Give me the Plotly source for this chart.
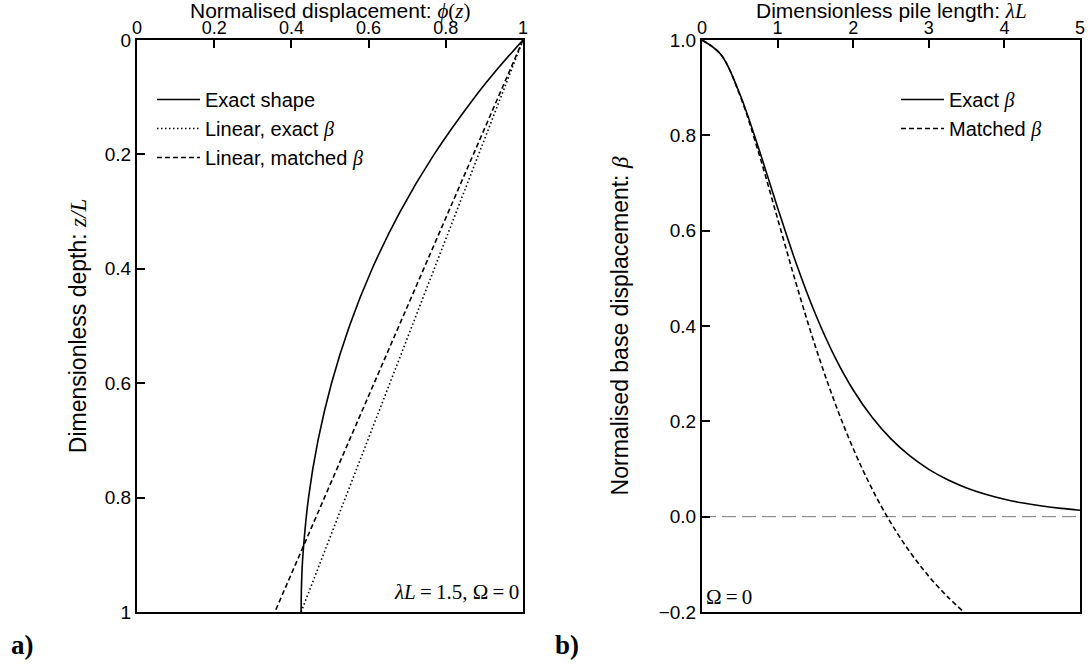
import plotly.graph_objects as go

# ---- Panel a) data ----
z_exact = [0.0, 0.05, 0.1, 0.2, 0.3, 0.4, 0.5, 0.6, 0.7, 0.8, 0.9, 0.95, 1.0]
phi_exact = [1.0, 0.9348, 0.8750, 0.7697, 0.6818, 0.6092, 0.5504, 0.5039, 0.4689, 0.4444, 0.4299, 0.4263, 0.4251]
z_lin = [0.0, 1.0]
phi_lin_exact = [1.0, 0.4251]
phi_lin_matched = [1.0, 0.3571]

# ---- Panel b) data ----
lam_exact = [0, 0.25, 0.5, 0.75, 1.0, 1.25, 1.5, 1.75, 2.0, 2.25, 2.5, 2.75, 3.0, 3.25, 3.5, 3.75, 4.0, 4.25, 4.5, 4.75, 5.0]
beta_exact = [1.0, 0.9695, 0.8868, 0.7724, 0.6481, 0.5295, 0.4251, 0.3374, 0.2658, 0.2085, 0.1631, 0.1273, 0.0993, 0.0774, 0.0603, 0.0470, 0.0366, 0.0285, 0.0222, 0.0173, 0.0135]
lam_matched = [0, 0.25, 0.5, 0.75, 1.0, 1.25, 1.5, 1.75, 2.0, 2.25, 2.5, 2.75, 3.0, 3.25, 3.464]
beta_matched = [1.0, 0.9694, 0.8846, 0.7632, 0.625, 0.4863, 0.3571, 0.2423, 0.1429, 0.0581, -0.0135, -0.0740, -0.125, -0.1682, -0.2]
zero_x = [0, 5]
zero_y = [0, 0]

xa_ticks = [0, 0.2, 0.4, 0.6, 0.8, 1]
xa_labels = ["0", "0.2", "0.4", "0.6", "0.8", "1"]
ya_ticks = [0, 0.2, 0.4, 0.6, 0.8, 1]
ya_labels = ["0", "0.2", "0.4", "0.6", "0.8", "1"]
xb_ticks = [0, 1, 2, 3, 4, 5]
yb_ticks = [-0.2, 0.0, 0.2, 0.4, 0.6, 0.8, 1.0]
yb_labels = ["\u22120.2", "0.0", "0.2", "0.4", "0.6", "0.8", "1.0"]

SERIF = "Liberation Serif"
SANS = "Liberation Sans"
TS = "\u2009"

def it(s):
    return f"<span style='font-family:{SERIF}'><i>{s}</i></span>"

def sf(s):
    return f"<span style='font-family:{SERIF}'>{s}</span>"

fig = go.Figure()
lw = 1.6
fig.add_trace(go.Scatter(x=phi_exact, y=z_exact, mode="lines", line=dict(color="black", width=lw, shape="spline"),
                         name="Exact shape", xaxis="x", yaxis="y", legend="legend"))
fig.add_trace(go.Scatter(x=phi_lin_exact, y=z_lin, mode="lines", line=dict(color="black", width=lw, dash="1.5px,2.5px"),
                         name="Linear, exact " + it("β"), xaxis="x", yaxis="y", legend="legend"))
fig.add_trace(go.Scatter(x=phi_lin_matched, y=z_lin, mode="lines", line=dict(color="black", width=lw, dash="5px,3px"),
                         name="Linear, matched " + it("β"), xaxis="x", yaxis="y", legend="legend"))

fig.add_trace(go.Scatter(x=zero_x, y=zero_y, mode="lines", line=dict(color="#777777", width=1, dash="14px,6px"),
                         showlegend=False, xaxis="x2", yaxis="y2", hoverinfo="skip"))
fig.add_trace(go.Scatter(x=lam_exact, y=beta_exact, mode="lines", line=dict(color="black", width=lw, shape="spline"),
                         name="Exact " + it("β"), xaxis="x2", yaxis="y2", legend="legend2"))
fig.add_trace(go.Scatter(x=lam_matched, y=beta_matched, mode="lines", line=dict(color="black", width=lw, dash="5px,3px", shape="spline"),
                         name="Matched " + it("β"), xaxis="x2", yaxis="y2", legend="legend2"))

W, H = 1089, 664
top = 1 - 40 / H
bot = 1 - 612 / H
TICK = 18
TITLE = 21
axcommon = dict(showline=True, linecolor="black", linewidth=2, mirror=True, ticks="inside", ticklen=8,
                tickwidth=1.5, tickcolor="black", showgrid=False, zeroline=False, automargin=True,
                tickfont=dict(family=SANS, size=TICK, color="black"))

fig.update_layout(
    width=W, height=H, margin=dict(l=0, r=0, t=0, b=0, autoexpand=False),
    paper_bgcolor="white", plot_bgcolor="white",
    font=dict(family=SANS, size=TICK, color="black"),
    xaxis=dict(domain=[137 / W, 523 / W], range=[0, 1], side="top", anchor="y",
               tickvals=xa_ticks, ticktext=xa_labels, ticklabelstandoff=-3, **axcommon),
    yaxis=dict(domain=[bot, top], range=[1, 0], anchor="x",
               tickvals=ya_ticks, ticktext=ya_labels, tickfont=dict(family=SANS, size=19, color="black"),
               title=dict(text="Dimensionless depth: " + it("z/L"), font=dict(size=23), standoff=12),
               **{k: v for k, v in axcommon.items() if k != "tickfont"}),
    xaxis2=dict(domain=[702 / W, 1080 / W], range=[0, 5], side="top", anchor="y2",
                tickvals=xb_ticks, ticklabelstandoff=-3, **axcommon),
    yaxis2=dict(domain=[bot, top], range=[-0.2, 1.0], anchor="x2",
                tickvals=yb_ticks, ticktext=yb_labels, tickfont=dict(family=SANS, size=19, color="black"),
                title=dict(text="Normalised base displacement: " + it("β"), font=dict(size=23), standoff=24),
                **{k: v for k, v in axcommon.items() if k != "tickfont"}),
    legend=dict(x=152 / W, y=1 - 80 / H, xanchor="left", yanchor="top", bgcolor="rgba(0,0,0,0)",
                font=dict(family=SANS, size=20), tracegroupgap=0, itemwidth=43),
    legend2=dict(x=896 / W, y=1 - 80 / H, xanchor="left", yanchor="top", bgcolor="rgba(0,0,0,0)",
                 font=dict(family=SANS, size=20), tracegroupgap=0, itemwidth=43),
    showlegend=True,
)

# top axis titles
fig.add_annotation(text="Normalised displacement: " + it("ϕ") + sf("(") + it("z") + sf(")"),
                   xref="x domain", yref="paper", x=0.5, y=1 - 11 / H, xanchor="center", yanchor="middle",
                   showarrow=False, font=dict(family=SANS, size=TITLE, color="black"))
fig.add_annotation(text="Dimensionless pile length: " + it("λL"),
                   xref="x2 domain", yref="paper", x=0.5, y=1 - 11 / H, xanchor="center", yanchor="middle",
                   showarrow=False, font=dict(family=SANS, size=TITLE, color="black"))

fig.add_annotation(text=it("λL") + TS + "=" + TS + "1.5, Ω" + TS + "=" + TS + "0", xref="x", yref="y", x=0.995, y=0.99,
                   xanchor="right", yanchor="bottom", showarrow=False,
                   font=dict(family=SERIF, size=21, color="black"))
fig.add_annotation(text="Ω" + TS + "=" + TS + "0", xref="x2", yref="y2", x=0.03, y=-0.198,
                   xanchor="left", yanchor="bottom", showarrow=False,
                   font=dict(family=SERIF, size=21, color="black"))
fig.add_annotation(text="<b>a)</b>", xref="paper", yref="paper", x=9 / W, y=1 - 645 / H,
                   xanchor="left", yanchor="middle", showarrow=False,
                   font=dict(family=SERIF, size=27, color="black"))
fig.add_annotation(text="<b>b)</b>", xref="paper", yref="paper", x=553 / W, y=1 - 645 / H,
                   xanchor="left", yanchor="middle", showarrow=False,
                   font=dict(family=SERIF, size=27, color="black"))

fig.write_html("out.html")
